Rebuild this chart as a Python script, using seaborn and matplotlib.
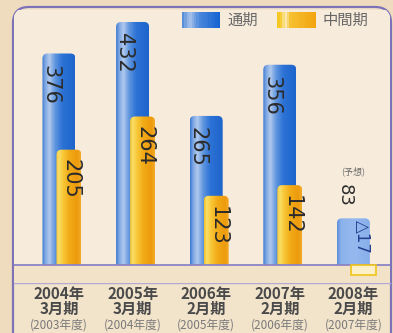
import numpy as np
import pandas as pd
import matplotlib
matplotlib.use("Agg")
import matplotlib.pyplot as plt
import seaborn as sns
from matplotlib.patches import FancyBboxPatch, Rectangle
from matplotlib.colors import LinearSegmentedColormap
from matplotlib.legend_handler import HandlerBase
from matplotlib.font_manager import FontProperties

# ---- data -------------------------------------------------------------
years = ["2004年", "2005年", "2006年", "2007年", "2008年"]
periods = ["3月期", "3月期", "2月期", "2月期", "2月期"]
fiscal = ["(2003年度)", "(2004年度)", "(2005年度)", "(2006年度)", "(2007年度)"]
full_year = [376, 432, 265, 356, 83]      # 通期
interim = [205, 264, 123, 142, -17]       # 中間期
forecast_flags = [False, False, False, False, True]
legend_labels = ["通期", "中間期"]
forecast_note = "(予想)"

sns.set_style("white")
CJK = ["Noto Sans CJK JP", "DejaVu Sans"]
plt.rcParams["font.family"] = CJK


def fmt(v):
    return f"△{abs(v)}" if v < 0 else f"{v}"


W, H = 393, 333
fig = plt.figure(figsize=(W / 100, H / 100), dpi=100)
fig.patch.set_facecolor("#efdcbf")

# background layer in pixel units holding the rounded frame
bg = fig.add_axes([0, 0, 1, 1], zorder=0)
bg.set_xlim(0, W)
bg.set_ylim(0, H)
bg.axis("off")
frame = FancyBboxPatch((13, -20), 378, 346, boxstyle="round,pad=0,rounding_size=16",
                       facecolor="#f2e3cb", edgecolor="#7d72b8", lw=1.6)
bg.add_patch(frame)

ax = fig.add_axes([14 / W, 50 / H, 376 / W, 273 / H], zorder=1)
ax.set_facecolor("#f7ecdc")
ax.patch.set_clip_path(frame)

XMIN, XMAX, YMIN, YMAX = -0.611, 4.497, -32, 453.3
ax_w_px, ax_h_px = 376, 273
ux = (XMAX - XMIN) / ax_w_px   # x data units per pixel
uy = (YMAX - YMIN) / ax_h_px   # y data units per pixel

pos = np.arange(len(years))
df = pd.DataFrame({
    "pos": pos.astype(float),
    "pos_i": pos + 10 * ux,
    "full": full_year,
    "interim": interim,
})

n0 = len(ax.patches)
sns.barplot(data=df, x="pos", y="full", native_scale=True, width=33 * ux,
            color="#2a72d6", errorbar=None, ax=ax)
blue_bars = ax.patches[n0:]
n1 = len(ax.patches)
sns.barplot(data=df, x="pos_i", y="interim", native_scale=True, width=25 * ux,
            color="#f2aa18", errorbar=None, ax=ax)
orange_bars = ax.patches[n1:]

blue_cmap = LinearSegmentedColormap.from_list("blue", [
    (0.0, "#3a78d0"), (0.08, "#78a4e2"), (0.22, "#b2caee"), (0.40, "#5f95de"),
    (0.62, "#2c72d6"), (1.0, "#1d64cc")])
fc_cmap = LinearSegmentedColormap.from_list("fc", [
    (0.0, "#5d8fdc"), (0.12, "#8db3ec"), (0.5, "#95b9ef"), (1.0, "#88aeea")])
orange_cmap = LinearSegmentedColormap.from_list("orange", [
    (0.0, "#f2c028"), (0.10, "#fbe06c"), (0.26, "#f8ca3c"), (0.52, "#f2ac18"),
    (0.86, "#ee9a0c"), (1.0, "#f1ac2a")])

grad = np.linspace(0, 1, 64)[None, :]
rx, ry = 5 * ux, 5 * uy


def cylinder(bar, cmap, z):
    """Replace a flat bar with a shaded, round-topped column."""
    x0, w, h = bar.get_x(), bar.get_width(), bar.get_height()
    shape = FancyBboxPatch((x0, -ry), w, h + ry,
                           boxstyle=f"round,pad=0,rounding_size={rx}",
                           mutation_aspect=ry / rx, facecolor="none",
                           edgecolor="none", zorder=z)
    ax.add_patch(shape)
    im = ax.imshow(grad, extent=(x0, x0 + w, -ry, h), aspect="auto", cmap=cmap,
                   origin="lower", interpolation="bicubic", zorder=z)
    im.set_clip_path(shape)
    bar.set_visible(False)


for bar, fc in zip(blue_bars, forecast_flags):
    cylinder(bar, fc_cmap if fc else blue_cmap, 2)
for bar, v in zip(orange_bars, interim):
    if v >= 0:
        cylinder(bar, orange_cmap, 3)
    else:
        bar.set_facecolor("#fbf0c8")
        bar.set_edgecolor("#f0c418")
        bar.set_linewidth(1.2)
        bar.set_zorder(6)

# band under the baseline
ax.axhspan(YMIN, 0, color="#f2e2c8", zorder=4, lw=0)
ax.axhline(0, color="#8c84c4", lw=1.3, zorder=5)

# value labels
num_font = dict(family="DejaVu Sans", color="#2b2b2b", rotation=270)
for p, v, fc in zip(pos, full_year, forecast_flags):
    if fc:
        ax.annotate(fmt(v), (p, v), xytext=(-6, 8), textcoords="offset points",
                    ha="center", va="bottom", fontsize=13, zorder=7, **num_font)
        ax.annotate(forecast_note, (p, v), xytext=(0, 34), textcoords="offset points",
                    ha="center", va="center", fontsize=6.5, color="#6a6a6a",
                    family=CJK, zorder=7)
    else:
        ax.annotate(fmt(v), (p, v), xytext=(-6, -8), textcoords="offset points",
                    ha="center", va="top", fontsize=15, zorder=7, **num_font)

for p, v, top in zip(df["pos_i"], interim, full_year):
    if v >= 0:
        ax.annotate(fmt(v), (p, v), xytext=(1.4, -7), textcoords="offset points",
                    ha="center", va="top", fontsize=15, zorder=7, **num_font)
    else:
        ax.annotate(fmt(v), (p, top), xytext=(-1, -1), textcoords="offset points",
                    ha="center", va="top", fontsize=12, zorder=7,
                    family="DejaVu Sans", color="#24408e", rotation=270)

# axes cosmetics
ax.set_xlim(XMIN, XMAX)
ax.set_ylim(YMIN, YMAX)
ax.set_xlabel("")
ax.set_ylabel("")
ax.set_yticks([])
for s in ["left", "top", "right"]:
    ax.spines[s].set_visible(False)
ax.spines["bottom"].set_color("#b2aad4")
ax.spines["bottom"].set_linewidth(1.0)
ax.set_xticks(pos, labels=[f"{y}\n{m}" for y, m in zip(years, periods)])
ax.tick_params(axis="x", length=0, pad=2.5)
for lab in ax.get_xticklabels():
    lab.set_fontsize(11)
    lab.set_fontweight("bold")
    lab.set_color("#4a4a4a")
    lab.set_linespacing(0.92)
    lab.set_family(CJK)
for p, f in zip(pos, fiscal):
    ax.annotate(f, (p, 0), xycoords=("data", "axes fraction"), xytext=(0, -30.5),
                textcoords="offset points", ha="center", va="center",
                fontsize=8.5, color="#7a7a7a", family=CJK, annotation_clip=False)


# legend with shaded swatches
class GradientHandler(HandlerBase):
    def __init__(self, cmap, n=16):
        super().__init__()
        self.cmap = cmap
        self.n = n

    def create_artists(self, legend, orig_handle, xdescent, ydescent, width,
                       height, fontsize, trans):
        arts = []
        for k in range(self.n):
            arts.append(Rectangle((-xdescent + width * k / self.n, -ydescent),
                                  width / self.n * 1.05, height,
                                  facecolor=self.cmap((k + 0.5) / self.n),
                                  edgecolor="none", transform=trans))
        return arts


legend_orange = LinearSegmentedColormap.from_list("lo", [
    (0.0, "#f4c418"), (0.12, "#f7d040"), (0.2, "#fcecc0"), (0.35, "#f6c030"),
    (1.0, "#f2a410")])
legend_blue = LinearSegmentedColormap.from_list("lb", [
    (0.0, "#4a84d6"), (0.2, "#a8c2ea"), (0.45, "#4a88dc"), (1.0, "#1462d0")])
h_full = Rectangle((0, 0), 1, 1)
h_int = Rectangle((0, 0), 1, 1)
ax.legend([h_full, h_int], legend_labels,
          handler_map={h_full: GradientHandler(legend_blue),
                       h_int: GradientHandler(legend_orange)},
          loc="upper left", bbox_to_anchor=(182 / W, 1 - 12 / H),
          bbox_transform=fig.transFigure, ncol=2, frameon=False,
          prop=FontProperties(family=CJK, size=11), labelcolor="#666666",
          handlelength=2.5, handleheight=1.2, handletextpad=0.45,
          columnspacing=1.3, borderpad=0, borderaxespad=0)

fig.savefig("out.png", dpi=100, facecolor=fig.get_facecolor())
